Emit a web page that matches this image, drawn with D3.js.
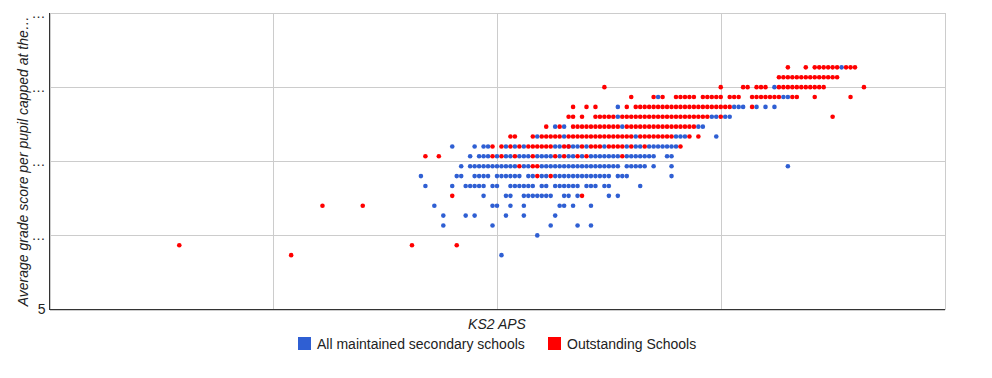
<!DOCTYPE html>
<html><head><meta charset="utf-8">
<script src="https://cdn.jsdelivr.net/npm/d3@7"></script>
<style>
html,body{margin:0;padding:0;background:#fff;}
svg text{font-family:"Liberation Sans",Arial,sans-serif;}
</style></head>
<body><svg id="chart" width="992" height="378"></svg>
<script>
// ---- data ----
const seriesNames = ["All maintained secondary schools", "Outstanding Schools"];
const seriesColors = ["#2f5fd3", "#ff0000"];
const xTicks = [15, 20, 25, 30, 35];
const yTicks = [5, 20, 35, 50, 65];
const yTickLabels = ["5", "\u2026", "\u2026", "\u2026", "\u2026"];
const xTitle = "KS2 APS";
const yTitle = "Average grade score per pupil capped at the\u2026";

// All maintained secondary schools: [y, [x values]]
const allSchoolsRows = [
  [16, [25.1]],
  [20, [25.9]],
  [22, [23.8, 24.9, 26.2, 26.8, 27.1]],
  [24, [23.8, 24.3, 24.5, 25.2, 25.6, 26.3]],
  [26, [23.6, 24.9, 25.0, 25.3, 25.6, 26.4, 26.5, 26.7, 27.1]],
  [28, [24.7, 25.2, 25.3, 25.6, 25.7, 25.8, 25.9, 26.0, 26.1, 26.2, 26.5, 26.6, 26.8, 27.5, 27.7]],
  [30, [23.4, 24.0, 24.3, 24.4, 24.5, 24.6, 24.7, 24.9, 25.0, 25.3, 25.4, 25.5, 25.6, 25.7, 25.8, 26.0, 26.1, 26.3, 26.4, 26.5, 26.6, 26.7, 26.8, 27.0, 27.1, 27.2, 27.4, 27.5, 28.2]],
  [32, [23.3, 24.1, 24.2, 24.5, 24.6, 24.7, 24.8, 25.0, 25.1, 25.2, 25.3, 25.4, 25.5, 25.7, 25.8, 26.0, 26.1, 26.3, 26.4, 26.5, 26.6, 26.7, 26.8, 26.9, 27.0, 27.1, 27.2, 27.3, 27.4, 27.5, 27.7, 27.8, 27.9, 28.9]],
  [34, [24.2, 24.4, 24.5, 24.6, 24.7, 24.8, 24.9, 25.0, 25.1, 25.2, 25.3, 25.4, 25.6, 25.7, 26.0, 26.1, 26.2, 26.3, 26.4, 26.5, 26.6, 26.7, 26.8, 26.9, 27.0, 27.1, 27.2, 27.3, 27.4, 27.5, 27.6, 27.7, 27.9, 28.0, 28.1, 28.2, 28.3, 28.5, 28.9, 31.5]],
  [36, [24.4, 24.6, 24.7, 24.8, 25.0, 25.2, 25.3, 25.5, 25.6, 25.7, 25.9, 26.0, 26.1, 26.2, 26.4, 26.6, 26.7, 26.9, 27.1, 27.2, 27.3, 27.4, 27.5, 27.6, 27.7, 27.9, 28.0, 28.1, 28.2, 28.3, 28.4, 28.5, 28.8, 28.9]],
  [38, [24.0, 24.5, 24.7, 24.8, 25.2, 25.4, 25.6, 26.3, 26.4, 26.6, 26.7, 26.8, 27.0, 27.4, 27.9, 28.1, 28.2, 28.4, 28.5, 28.6, 28.7, 28.8, 28.9, 29.0]],
  [40, [25.9, 26.5, 28.1, 29.0, 29.1, 29.2, 29.9]],
  [42, [26.3, 26.5, 27.8, 29.5, 29.6]],
  [44, [27.7, 29.8, 29.9, 30.1, 30.2]],
  [46, [27.7, 30.3, 30.4, 30.5, 30.8, 31.0, 31.2]],
  [48, [28.6, 31.4, 31.5]],
  [50, [31.2]],
  [54, [32.7]]
];

// Outstanding Schools: [y, [x values]]
const outstandingRows = [
  [16, [20.4]],
  [18, [17.9, 23.1, 24.1]],
  [26, [21.1, 22.0]],
  [28, [24.0, 26.9]],
  [32, [25.9, 26.2]],
  [34, [25.5, 25.8, 25.9]],
  [36, [23.4, 23.7, 24.9, 25.1, 25.4, 25.8, 26.3, 26.5, 26.8, 27.0, 27.8]],
  [38, [24.9, 25.1, 25.3, 25.5, 25.7, 25.8, 25.9, 26.0, 26.1, 26.2, 26.5, 26.6, 26.9, 27.1, 27.2, 27.3, 27.5, 27.6, 27.7, 27.8, 28.0, 28.3, 29.1]],
  [40, [25.3, 25.4, 25.8, 26.0, 26.1, 26.2, 26.3, 26.4, 26.6, 26.7, 26.8, 26.9, 27.0, 27.1, 27.2, 27.3, 27.4, 27.5, 27.6, 27.7, 27.8, 27.9, 28.0, 28.2, 28.3, 28.4, 28.5, 28.6, 28.7, 28.8, 28.9, 29.3, 29.5]],
  [42, [26.1, 26.4, 26.7, 26.8, 26.9, 27.0, 27.1, 27.2, 27.3, 27.4, 27.5, 27.6, 27.7, 27.9, 28.0, 28.1, 28.2, 28.3, 28.4, 28.5, 28.6, 28.7, 28.8, 28.9, 29.0, 29.1, 29.2, 29.3, 29.4]],
  [44, [26.6, 26.7, 26.9, 27.2, 27.3, 27.4, 27.5, 27.6, 27.8, 27.9, 28.0, 28.1, 28.2, 28.3, 28.4, 28.5, 28.6, 28.7, 28.8, 28.9, 29.0, 29.1, 29.2, 29.3, 29.4, 29.5, 29.6, 29.7, 30.0, 32.5]],
  [46, [26.7, 27.0, 27.2, 27.9, 28.1, 28.2, 28.3, 28.4, 28.5, 28.6, 28.7, 28.8, 28.9, 29.0, 29.1, 29.2, 29.3, 29.4, 29.5, 29.6, 29.7, 29.8, 29.9, 30.0, 30.1, 30.2, 30.7]],
  [48, [28.0, 28.5, 28.7, 29.0, 29.1, 29.2, 29.3, 29.4, 29.6, 29.7, 29.8, 29.9, 30.0, 30.2, 30.3, 30.4, 30.7, 30.8, 30.9, 31.0, 31.1, 31.2, 31.3, 31.6, 31.7, 32.1, 32.9]],
  [50, [27.4, 30.0, 30.5, 30.6, 30.8, 30.9, 31.0, 31.3, 31.4, 31.5, 31.6, 31.7, 31.8, 31.9, 32.0, 32.1, 32.2, 32.3, 33.2]],
  [52, [31.3, 31.4, 31.5, 31.6, 31.7, 31.8, 31.9, 32.0, 32.1, 32.2, 32.3, 32.4, 32.5, 32.6]],
  [54, [31.5, 31.9, 32.1, 32.2, 32.3, 32.4, 32.5, 32.6, 32.8, 32.9, 33.0]]
];

// ---- drawing ----
const svg = d3.select("#chart");
const plot = {left: 49.5, right: 944.5, top: 13, bottom: 309.5};
const x = d3.scaleLinear().domain([xTicks[0], xTicks[xTicks.length-1]]).range([plot.left, plot.right]);
const y = d3.scaleLinear().domain([yTicks[0], yTicks[yTicks.length-1]]).range([plot.bottom, plot.top]);

svg.append("rect").attr("width", 992).attr("height", 378).attr("fill", "#fff");

// gridlines
const gx = svg.append("g").attr("transform", `translate(0,${plot.bottom})`)
  .call(d3.axisBottom(x).tickValues(xTicks).tickSize(-(plot.bottom - plot.top)).tickFormat(""));
gx.select(".domain").remove();
gx.selectAll(".tick line").attr("stroke", "#cccccc").attr("shape-rendering", "crispEdges");

const gy = svg.append("g").attr("transform", `translate(${plot.left},0)`)
  .call(d3.axisLeft(y).tickValues(yTicks).tickSize(-(plot.right - plot.left)).tickPadding(4)
    .tickFormat((d, i) => yTickLabels[i]));
gy.select(".domain").remove();
gy.selectAll(".tick line").attr("stroke", "#cccccc").attr("shape-rendering", "crispEdges");
gy.selectAll(".tick text").attr("font-size", 14).attr("fill", "#222")
  .attr("font-family", "'Liberation Sans', Arial, sans-serif");

// points
function flatten(rows) {
  const out = [];
  rows.forEach(([yv, xs]) => xs.forEach(xv => out.push({x: xv, y: yv})));
  return out;
}
[allSchoolsRows, outstandingRows].forEach((rows, si) => {
  svg.append("g").selectAll("circle").data(flatten(rows)).join("circle")
    .attr("cx", d => x(d.x)).attr("cy", d => y(d.y)).attr("r", 2.3)
    .attr("fill", seriesColors[si]);
});

// baselines
svg.append("line").attr("x1", plot.left).attr("x2", plot.right).attr("y1", plot.bottom).attr("y2", plot.bottom)
  .attr("stroke", "#333").attr("shape-rendering", "crispEdges");
svg.append("line").attr("x1", plot.left).attr("x2", plot.left).attr("y1", plot.top).attr("y2", plot.bottom)
  .attr("stroke", "#333").attr("shape-rendering", "crispEdges");

// titles
svg.append("text").attr("x", (plot.left + plot.right) / 2).attr("y", 329)
  .attr("text-anchor", "middle").attr("font-size", 14).attr("font-style", "italic").attr("fill", "#222")
  .text(xTitle);
svg.append("text").attr("transform", `translate(28,${(plot.top + plot.bottom) / 2}) rotate(-90)`)
  .attr("text-anchor", "middle").attr("font-size", 14).attr("font-style", "italic").attr("fill", "#222")
  .text(yTitle);

// legend
const legendX = [298, 548];
seriesNames.forEach((name, i) => {
  const g = svg.append("g").attr("transform", `translate(${legendX[i]},337)`);
  g.append("rect").attr("width", 13).attr("height", 13).attr("fill", seriesColors[i]);
  g.append("text").attr("x", 19).attr("y", 12).attr("font-size", 14).attr("fill", "#222").text(name);
});
</script></body></html>
